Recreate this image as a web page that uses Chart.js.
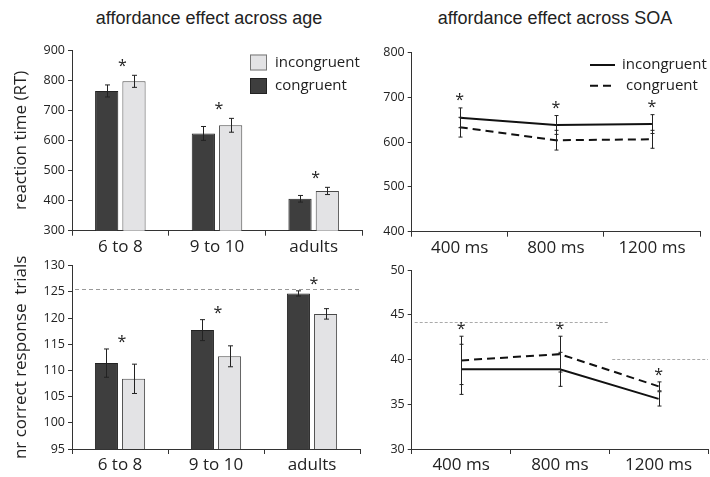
<!DOCTYPE html>
<html>
<head>
<meta charset="utf-8">
<script src="https://cdn.jsdelivr.net/npm/chart.js@4"></script>
<style>
  body { margin: 0; background: #fff; width: 710px; height: 477px; position: relative; overflow: hidden; }
  .title { position: absolute; top: 9px; font: 18px "Liberation Sans", Arial, sans-serif; line-height: 18px; color: #222; white-space: nowrap; transform: translateX(-50%); }
  canvas { position: absolute; left: 0; top: 0; }
</style>
</head>
<body>
<div class="title" style="left:209px">affordance effect across age</div>
<div class="title" style="left:555px">affordance effect across SOA</div>
<canvas id="rtAge" width="710" height="477"></canvas>
<canvas id="rtSoa" width="710" height="477"></canvas>
<canvas id="accAge" width="710" height="477"></canvas>
<canvas id="accSoa" width="710" height="477"></canvas>
<script>
const ageLabels = ["6 to 8", "9 to 10", "adults"];
const soaLabels = ["400 ms", "800 ms", "1200 ms"];

// reaction time by age
const rtAgeCongruent = [764, 623, 406];
const rtAgeCongruentErr = [20, 23, 11];
const rtAgeIncongruent = [796, 650, 432];
const rtAgeIncongruentErr = [20, 23, 12];

// reaction time by SOA
const rtSoaIncongruent = [654, 638, 640];
const rtSoaIncongruentErr = [22, 21, 21];
const rtSoaCongruent = [633, 604, 606];
const rtSoaCongruentErr = [22, 22, 20];

// correct trials by age
const accAgeCongruent = [111.4, 117.7, 124.7];
const accAgeCongruentErr = [2.7, 2.0, 0.5];
const accAgeIncongruent = [108.4, 112.7, 120.8];
const accAgeIncongruentErr = [2.8, 2.0, 1.0];
const accAgeCeiling = 125.6;

// correct trials by SOA
const accSoaIncongruent = [38.9, 38.9, 35.6];
const accSoaIncongruentErr = [2.8, 1.9, 0.8];
const accSoaCongruent = [39.9, 40.6, 37.0];
const accSoaCongruentErr = [2.7, 2.0, 0.5];
const accSoaCeilings = [44.2, 40.1];

const W = 710, H = 477;
const tickFont = { family: "Open Sans", size: 12.5 };
const labelFont = { family: "Open Sans", size: 17 };
const ink = "#222";

const errorBars = {
  id: "errorBars",
  afterDatasetsDraw(chart, args, opts) {
    const ctx = chart.ctx;
    const y = chart.scales.y;
    const cap = opts.cap || 2.5;
    ctx.save();
    ctx.strokeStyle = ink;
    ctx.lineWidth = 1;
    chart.data.datasets.forEach((ds, i) => {
      if (!ds.errors) return;
      chart.getDatasetMeta(i).data.forEach((el, j) => {
        const x = Math.round(el.x) + 0.5;
        const top = y.getPixelForValue(ds.data[j] + ds.errors[j]);
        const bot = y.getPixelForValue(ds.data[j] - ds.errors[j]);
        ctx.beginPath();
        ctx.moveTo(x, top); ctx.lineTo(x, bot);
        ctx.moveTo(x - cap, top); ctx.lineTo(x + cap, top);
        ctx.moveTo(x - cap, bot); ctx.lineTo(x + cap, bot);
        ctx.stroke();
      });
    });
    ctx.restore();
  }
};

const stars = {
  id: "stars",
  afterDatasetsDraw(chart, args, opts) {
    const ctx = chart.ctx;
    const x = chart.scales.x, y = chart.scales.y;
    ctx.save();
    ctx.fillStyle = ink;
    ctx.font = "16px 'Open Sans'";
    ctx.textAlign = "center";
    const m = ctx.measureText("*");
    chart.data.labels.forEach((lab, j) => {
      let hi = -Infinity;
      chart.data.datasets.forEach(ds => {
        hi = Math.max(hi, ds.data[j] + (ds.errors ? ds.errors[j] : 0));
      });
      const cy = y.getPixelForValue(hi) - opts.gap;
      const base = cy + (m.actualBoundingBoxAscent - m.actualBoundingBoxDescent) / 2;
      ctx.fillText("*", x.getPixelForValue(j) + (opts.dx || 0), base);
    });
    ctx.restore();
  }
};

const refLines = {
  id: "refLines",
  beforeDatasetsDraw(chart, args, opts) {
    if (!opts.lines) return;
    const ctx = chart.ctx;
    const x = chart.scales.x, y = chart.scales.y;
    ctx.save();
    ctx.strokeStyle = opts.color;
    ctx.lineWidth = 1;
    ctx.setLineDash(opts.dash);
    opts.lines.forEach(l => {
      const py = Math.round(y.getPixelForValue(l.value)) + 0.5;
      ctx.beginPath();
      ctx.moveTo(x.getPixelForValue(l.from) + 3, py);
      ctx.lineTo(x.getPixelForValue(l.to), py);
      ctx.stroke();
    });
    ctx.restore();
  }
};

const keyBox = {
  id: "keyBox",
  afterDraw(chart, args, opts) {
    if (!opts.items) return;
    const ctx = chart.ctx;
    ctx.save();
    ctx.font = "15px 'Open Sans'";
    ctx.textBaseline = "middle";
    ctx.fillStyle = ink;
    opts.items.forEach((it, k) => {
      const cy = opts.y + k * opts.step;
      if (it.kind === "box") {
        ctx.fillStyle = it.fill;
        ctx.fillRect(opts.x, cy - 8, 17, 16);
        ctx.strokeStyle = it.stroke;
        ctx.lineWidth = 1;
        ctx.strokeRect(opts.x + 0.5, cy - 7.5, 16, 15);
      } else {
        ctx.strokeStyle = "#111";
        ctx.lineWidth = 2;
        ctx.setLineDash(it.dash || []);
        ctx.beginPath();
        ctx.moveTo(opts.x, cy); ctx.lineTo(opts.x + 25, cy);
        ctx.stroke();
        ctx.setLineDash([]);
      }
      ctx.fillStyle = ink;
      ctx.fillText(it.text, opts.x + it.tx, cy);
    });
    ctx.restore();
  }
};

function axes(area, yMin, yMax, step, yTitle) {
  return {
    x: {
      offset: true,
      grid: { offset: true, display: true, drawOnChartArea: false, drawTicks: true, tickLength: 5, color: "#333" },
      border: { display: true, color: "#333", width: 1 },
      ticks: { color: ink, font: labelFont, padding: 1 },
      afterFit(s) { s.height = H - area.bottom; }
    },
    y: {
      min: yMin, max: yMax,
      grid: { display: true, drawOnChartArea: false, drawTicks: true, tickLength: 4, color: "#333" },
      border: { display: true, color: "#333", width: 1 },
      ticks: { stepSize: step, color: ink, font: tickFont, padding: 3 },
      title: { display: !!yTitle, text: yTitle || "", color: ink, font: labelFont, padding: { top: 11, bottom: 0 } },
      afterFit(s) { s.width = area.left; }
    }
  };
}

function makeChart(id, type, labels, datasets, area, scales, plugins) {
  return new Chart(document.getElementById(id), {
    type: type,
    data: { labels: labels, datasets: datasets },
    options: {
      responsive: false,
      animation: false,
      events: [],
      layout: { padding: { left: 0, top: area.top, right: W - area.right, bottom: 0 } },
      scales: scales,
      plugins: Object.assign({ legend: { display: false }, tooltip: { enabled: false } }, plugins)
    },
    plugins: [refLines, errorBars, stars, keyBox]
  });
}

const barStyle = (fill, stroke) => ({
  backgroundColor: fill, borderColor: stroke, borderWidth: 1,
  categoryPercentage: 0.565, barPercentage: 0.85
});
const darkBar = barStyle("#3e3e3e", "#222");
const lightBar = barStyle("#e3e3e5", "#4a4a4a");

const lineStyle = (dash) => ({
  borderColor: "#111", borderWidth: 2, borderDash: dash, pointRadius: 0, tension: 0, fill: false
});

// top left
const a1 = { left: 72, right: 362, top: 50, bottom: 230.7 };
makeChart("rtAge", "bar", ageLabels, [
  Object.assign({ label: "congruent", data: rtAgeCongruent, errors: rtAgeCongruentErr }, darkBar),
  Object.assign({ label: "incongruent", data: rtAgeIncongruent, errors: rtAgeIncongruentErr }, lightBar)
], a1, axes(a1, 300, 900, 100, "reaction time (RT)"), {
  errorBars: { cap: 2.5 },
  stars: { gap: 12, dx: 2 },
  keyBox: { x: 250, y: 62.5, step: 23.5, items: [
    { kind: "box", text: "incongruent", fill: "#e3e3e5", stroke: "#777", tx: 25 },
    { kind: "box", text: "congruent", fill: "#3e3e3e", stroke: "#222", tx: 25 }
  ] }
});

// top right
const a2 = { left: 411.7, right: 700, top: 52.3, bottom: 231.7 };
makeChart("rtSoa", "line", soaLabels, [
  Object.assign({ label: "incongruent", data: rtSoaIncongruent, errors: rtSoaIncongruentErr }, lineStyle([])),
  Object.assign({ label: "congruent", data: rtSoaCongruent, errors: rtSoaCongruentErr }, lineStyle([8, 5]))
], a2, axes(a2, 400, 800, 100), {
  errorBars: { cap: 2 },
  stars: { gap: 11, dx: 0 },
  keyBox: { x: 590, y: 65, step: 20.7, items: [
    { kind: "line", text: "incongruent", tx: 32 },
    { kind: "line", text: "congruent", dash: [8, 5], tx: 36 }
  ] }
});

// bottom left
const a3 = { left: 72, right: 360, top: 265.7, bottom: 449 };
makeChart("accAge", "bar", ageLabels, [
  Object.assign({ label: "congruent", data: accAgeCongruent, errors: accAgeCongruentErr }, darkBar),
  Object.assign({ label: "incongruent", data: accAgeIncongruent, errors: accAgeIncongruentErr }, lightBar)
], a3, axes(a3, 95, 130, 5, "nr correct response  trials"), {
  errorBars: { cap: 2.5 },
  stars: { gap: 10, dx: 2 },
  refLines: { color: "#999", dash: [4, 3], lines: [{ value: accAgeCeiling, from: -0.5, to: 2.5 }] }
});

// bottom right
const a4 = { left: 411.7, right: 708, top: 270, bottom: 449 };
makeChart("accSoa", "line", soaLabels, [
  Object.assign({ label: "incongruent", data: accSoaIncongruent, errors: accSoaIncongruentErr }, lineStyle([])),
  Object.assign({ label: "congruent", data: accSoaCongruent, errors: accSoaCongruentErr }, lineStyle([8, 5]))
], a4, axes(a4, 30, 50, 5), {
  errorBars: { cap: 2 },
  stars: { gap: 10, dx: 0 },
  refLines: { color: "#aaa", dash: [3, 2], lines: [
    { value: accSoaCeilings[0], from: -0.5, to: 1.5 },
    { value: accSoaCeilings[1], from: 1.5, to: 2.5 }
  ] }
});
</script>
</body>
</html>
